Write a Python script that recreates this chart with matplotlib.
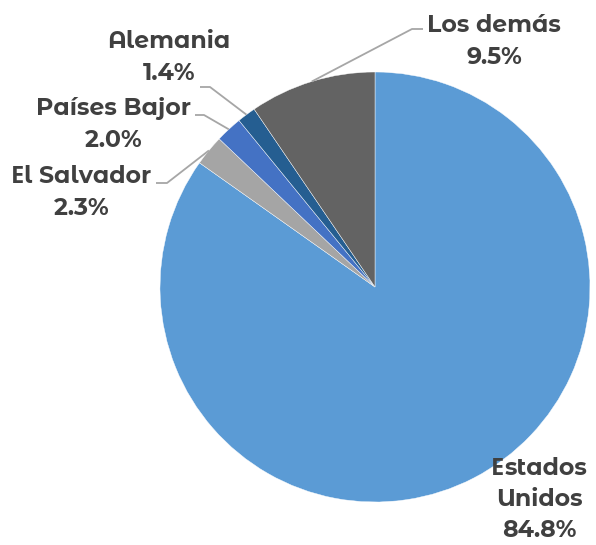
import matplotlib.pyplot as plt
import numpy as np

categories = ["Estados Unidos", "El Salvador", "Países Bajor", "Alemania", "Los demás"]
values = [84.8, 2.3, 2.0, 1.4, 9.5]
pct_labels = ["84.8%", "2.3%", "2.0%", "1.4%", "9.5%"]
colors = ["#5B9BD5", "#A5A5A5", "#4472C4", "#255E91", "#636363"]

W, H = 596, 545
fig = plt.figure(figsize=(W / 100, H / 100), dpi=100)
ax = fig.add_axes([0, 0, 1, 1])

cx, cy, r = 375, 287, 215
ax.pie(values, colors=colors, startangle=-90, counterclock=True,
       center=(cx, cy), radius=r, frame=True,
       wedgeprops=dict(edgecolor="white", linewidth=0.3))
ax.set_xlim(0, W)
ax.set_ylim(H, 0)
ax.set_aspect("equal")
ax.axis("off")

tc = "#404040"
lc = "#A6A6A6"
FS = 17
main_font = dict(family="Montserrat Alternates", fontweight="bold", fontsize=FS, color=tc)
e_font = dict(family="Open Sans", fontweight="bold", fontsize=FS, color=tc)

# label layout: text center x, first baseline y, line split, line spacing, leader (start, elbow)
layout = {
    0: dict(x=539, y=475, ls=31, lines=["Estados", "Unidos"], leader=None),
    1: dict(x=81, y=183, ls=32, lines=["El Salvador"], leader=[(156, 183), (167, 183)]),
    2: dict(x=113, y=115, ls=32, lines=["Países Bajor"], leader=[(195, 115), (204, 115)]),
    3: dict(x=169, y=48, ls=32, lines=["Alemania"], leader=[(200, 87), (210, 87)]),
    4: dict(x=494, y=32, ls=32, lines=["Los demás"], leader=[(423, 29), (412, 29)]),
}

fig.canvas.draw()
renderer = fig.canvas.get_renderer()


def draw_line(xc, yb, s):
    # split into segments: 'E' drawn in a font with a plain E
    segs = []
    buf = ""
    for ch in s:
        if ch == "E":
            if buf:
                segs.append((buf, main_font))
                buf = ""
            segs.append(("E", e_font))
        else:
            buf += ch
    if buf:
        segs.append((buf, main_font))
    texts = [ax.text(0, yb, t, ha="left", va="baseline", **f) for t, f in segs]
    widths = [t.get_window_extent(renderer).width for t in texts]
    x = xc - sum(widths) / 2
    for t, w in zip(texts, widths):
        t.set_x(x)
        x += w


cum = 0
total = sum(values)
for i, (v, p) in enumerate(zip(values, pct_labels)):
    mid = cum + v / 2
    cum += v
    theta = 2 * np.pi * mid / total
    L = layout[i]
    lines = L["lines"] + [p]
    for k, s in enumerate(lines):
        draw_line(L["x"], L["y"] + k * L["ls"], s)
    if L["leader"]:
        ex = cx + r * np.sin(theta)
        ey = cy - r * np.cos(theta)
        (x0, y0), (x1, y1) = L["leader"]
        ax.plot([x0, x1, ex], [y0, y1, ey], color=lc, linewidth=1.3,
                solid_capstyle="butt")

fig.savefig("out.png", dpi=100)
